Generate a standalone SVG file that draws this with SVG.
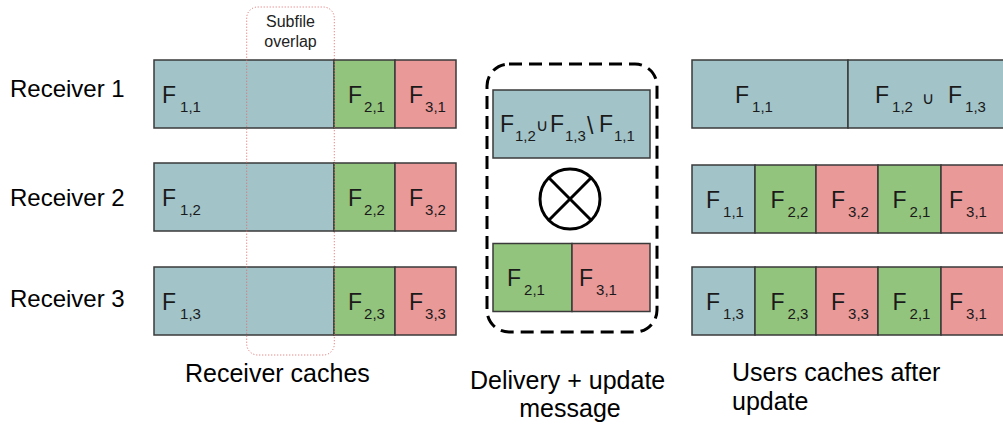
<svg xmlns="http://www.w3.org/2000/svg" width="1003" height="425" viewBox="0 0 1003 425">
  <style>
    .lbl { font-family: "Liberation Sans", Arial, sans-serif; fill: #000; }
    .big { font-size: 24px; }
    .cap { font-size: 25px; }
    .small { font-size: 16px; fill: #222; }
    .f { font-family: "Liberation Sans", Arial, sans-serif; font-size: 23px; fill: #1a1a1a; }
    .f .s { font-size: 15px; }
    .f .u { font-family: "Liberation Sans", "DejaVu Sans", sans-serif; font-size: 17px; }
    .blue { fill: #a2c4c9; stroke: #3a3a3a; stroke-width: 1.5; }
    .green { fill: #93c47d; stroke: #3a3a3a; stroke-width: 1.5; }
    .red { fill: #ea9999; stroke: #3a3a3a; stroke-width: 1.5; }
  </style>

  <rect width="1003" height="425" fill="#fff"/>

  <!-- receiver labels -->
  <g id="labels-receivers">
    <text class="lbl big" x="10" y="97">Receiver 1</text>
    <text class="lbl big" x="10" y="206">Receiver 2</text>
    <text class="lbl big" x="10" y="306.5">Receiver 3</text>
  </g>

  <!-- receiver caches: one bar per receiver -->
  <g id="cache-r1">
    <rect class="blue" x="154" y="60" width="180" height="68"/>
    <rect class="green" x="334" y="60" width="61" height="68"/>
    <rect class="red" x="395" y="60" width="61" height="68"/>
    <text class="f" x="162" y="102.5">F<tspan class="s" dx="4" dy="9">1,1</tspan></text>
    <text class="f" x="348" y="102.5">F<tspan class="s" dx="2" dy="9">2,1</tspan></text>
    <text class="f" x="409" y="102.5">F<tspan class="s" dx="2" dy="9">3,1</tspan></text>
  </g>
  <g id="cache-r2">
    <rect class="blue" x="154" y="163" width="180" height="68"/>
    <rect class="green" x="334" y="163" width="61" height="68"/>
    <rect class="red" x="395" y="163" width="61" height="68"/>
    <text class="f" x="162" y="205.5">F<tspan class="s" dx="4" dy="9">1,2</tspan></text>
    <text class="f" x="348" y="205.5">F<tspan class="s" dx="2" dy="9">2,2</tspan></text>
    <text class="f" x="409" y="205.5">F<tspan class="s" dx="2" dy="9">3,2</tspan></text>
  </g>
  <g id="cache-r3">
    <rect class="blue" x="154" y="267" width="180" height="68"/>
    <rect class="green" x="334" y="267" width="61" height="68"/>
    <rect class="red" x="395" y="267" width="61" height="68"/>
    <text class="f" x="162" y="309.5">F<tspan class="s" dx="4" dy="9">1,3</tspan></text>
    <text class="f" x="348" y="309.5">F<tspan class="s" dx="2" dy="9">2,3</tspan></text>
    <text class="f" x="409" y="309.5">F<tspan class="s" dx="2" dy="9">3,3</tspan></text>
  </g>

  <!-- overlap marker across the three caches -->
  <g id="subfile-overlap">
    <rect x="246.7" y="7" width="87.6" height="348" rx="11" fill="none" stroke="#e06666" stroke-width="1" stroke-dasharray="1 2"/>
    <text class="lbl small" x="290.5" y="27" text-anchor="middle">Subfile</text>
    <text class="lbl small" x="290.5" y="47" text-anchor="middle">overlap</text>
  </g>

  <!-- delivery message -->
  <g id="delivery">
    <rect x="487" y="64" width="170" height="268" rx="22" fill="none" stroke="#000" stroke-width="3" stroke-dasharray="13 7"/>
    <rect class="blue" x="493" y="90" width="157" height="68"/>
    <text class="f" y="132">
      <tspan x="500">F</tspan><tspan class="s" x="515" dy="9">1,2</tspan><tspan class="u" x="536" dy="-10">∪</tspan><tspan x="550" dy="1">F</tspan><tspan class="s" x="565" dy="9">1,3</tspan><tspan x="587" dy="-7">\</tspan><tspan x="599" dy="-2">F</tspan><tspan class="s" x="614" dy="9">1,1</tspan>
    </text>
  </g>
  <g id="xor">
    <circle cx="570" cy="199" r="30" fill="none" stroke="#000" stroke-width="3"/>
    <line x1="548.8" y1="177.8" x2="591.2" y2="220.2" stroke="#000" stroke-width="3"/>
    <line x1="591.2" y1="177.8" x2="548.8" y2="220.2" stroke="#000" stroke-width="3"/>
  </g>
  <g id="delivery-parts">
    <rect class="green" x="493" y="243.5" width="79" height="68"/>
    <rect class="red" x="572" y="243.5" width="78" height="68"/>
    <text class="f" x="507" y="286">F<tspan class="s" dx="3" dy="9">2,1</tspan></text>
    <text class="f" x="579" y="286">F<tspan class="s" dx="3" dy="9">3,1</tspan></text>
  </g>

  <!-- caches after the update -->
  <g id="updated-r1">
    <rect class="blue" x="692" y="60" width="156" height="68"/>
    <rect class="blue" x="848" y="60" width="170" height="68"/>
    <text class="f" x="735" y="102.5">F<tspan class="s" dx="3" dy="9">1,1</tspan></text>
    <text class="f" x="875" y="102.5">F<tspan class="s" dx="3" dy="9">1,2</tspan><tspan class="u" x="922" dy="-8">∪</tspan><tspan x="948" dy="-1">F</tspan><tspan class="s" dx="3" dy="9">1,3</tspan></text>
  </g>
  <g id="updated-r2">
    <rect class="blue" x="692" y="165" width="63" height="68"/>
    <rect class="green" x="755" y="165" width="61" height="68"/>
    <rect class="red" x="816" y="165" width="62" height="68"/>
    <rect class="green" x="878" y="165" width="63" height="68"/>
    <rect class="red" x="941" y="165" width="77" height="68"/>
    <text class="f" x="706" y="207.5">F<tspan class="s" dx="3" dy="9">1,1</tspan></text>
    <text class="f" x="770.5" y="207.5">F<tspan class="s" dx="3" dy="9">2,2</tspan></text>
    <text class="f" x="831" y="207.5">F<tspan class="s" dx="3" dy="9">3,2</tspan></text>
    <text class="f" x="892.5" y="207.5">F<tspan class="s" dx="3" dy="9">2,1</tspan></text>
    <text class="f" x="949" y="207.5">F<tspan class="s" dx="3" dy="9">3,1</tspan></text>
  </g>
  <g id="updated-r3">
    <rect class="blue" x="692" y="267" width="63" height="68"/>
    <rect class="green" x="755" y="267" width="61" height="68"/>
    <rect class="red" x="816" y="267" width="62" height="68"/>
    <rect class="green" x="878" y="267" width="63" height="68"/>
    <rect class="red" x="941" y="267" width="77" height="68"/>
    <text class="f" x="706" y="309.5">F<tspan class="s" dx="3" dy="9">1,3</tspan></text>
    <text class="f" x="770.5" y="309.5">F<tspan class="s" dx="3" dy="9">2,3</tspan></text>
    <text class="f" x="831" y="309.5">F<tspan class="s" dx="3" dy="9">3,3</tspan></text>
    <text class="f" x="892.5" y="309.5">F<tspan class="s" dx="3" dy="9">2,1</tspan></text>
    <text class="f" x="949" y="309.5">F<tspan class="s" dx="3" dy="9">3,1</tspan></text>
  </g>

  <g id="connectors"/>

  <!-- column captions -->
  <g id="captions">
    <text class="lbl cap" x="185" y="382">Receiver caches</text>
    <text class="lbl cap" x="470" y="388.5">Delivery + update</text>
    <text class="lbl cap" x="570" y="417" text-anchor="middle">message</text>
    <text class="lbl cap" x="732" y="381">Users caches after</text>
    <text class="lbl cap" x="732" y="410">update</text>
  </g>
</svg>
